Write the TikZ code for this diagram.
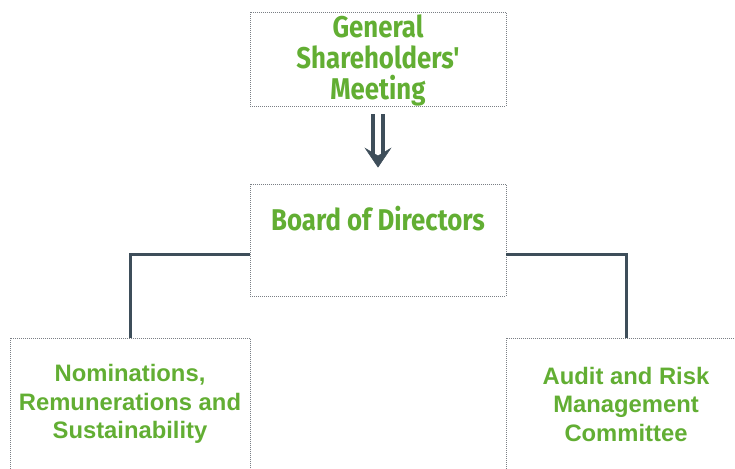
\documentclass[tikz,border=0pt]{standalone}
\usepackage{fontspec}
\setmainfont{Liberation Sans}
\newfontfamily\headfont{Fira Sans}[FakeStretch=0.86]
\usetikzlibrary{arrows.meta}
\definecolor{leafgreen}{HTML}{62AE33}
\definecolor{slate}{HTML}{3E4E5A}
\definecolor{dotgray}{HTML}{7A7F85}

\begin{document}
\begin{tikzpicture}[x=1pt,y=-1pt]
        %
        % `unit' is the dotted box, `head' and `committee' set the green text.
        % `link' is used for the elbow connectors, `pass' for the double arrow.
        \tikzstyle{unit} = [draw=dotgray,line width=0.8pt,dash pattern=on 1pt off 1pt,inner sep=0pt]
        \tikzstyle{head} = [text=leafgreen,font=\headfont\bfseries\fontsize{30}{31}\selectfont,align=center]
        \tikzstyle{committee} = [text=leafgreen,font=\bfseries\fontsize{23.8}{28.5}\selectfont,align=center]
        \tikzstyle{link} = [draw=slate,line width=3pt]
        \tikzstyle{pass} = [draw=slate,line width=3.5pt,double distance=6.5pt]
        %
        \useasboundingbox (0,0) rectangle (735,468);
        %
        % Top
        \node[unit,minimum width=256,minimum height=94] (gsm) at (378,59) {};
        \node[head] (gsmtext) at (378,60) {General\\Shareholders'\\Meeting};
        %
        % Board
        \node[unit,minimum width=256,minimum height=112] (bod) at (378,240) {};
        \node[head] (bodtext) at (378,219) {Board of Directors};
        %
        % Double arrow
        \coordinate (arrtop) at ([yshift=-8pt]gsm.south);
        \coordinate (arrtip) at ([yshift=16pt]bod.north);
        \draw[pass,shorten >=12pt] (arrtop) -- (arrtip);
        \draw[slate,line width=0.5pt,-{Stealth[length=20pt,width=27pt,inset=8pt]}] ([yshift=2pt]arrtip) -- (arrtip);
        %
        % Committees
        \node[unit,minimum width=240,minimum height=200,anchor=north] (nrs) at (130,338) {};
        \node[committee] (nrstext) at (130,404) {Nominations,\\Remunerations and\\Sustainability};
        \node[unit,minimum width=240,minimum height=200,anchor=north] (arm) at (626,338) {};
        \node[committee] (armtext) at (626,404) {Audit and Risk\\Management\\Committee};
        %
        % Connectors
        \coordinate (bodw) at (250,254);
        \coordinate (bode) at (506,254);
        \draw[link] (bodw) -| (nrs.north);
        \draw[link] (bode) -| (arm.north);
        %
\end{tikzpicture}
\end{document}
